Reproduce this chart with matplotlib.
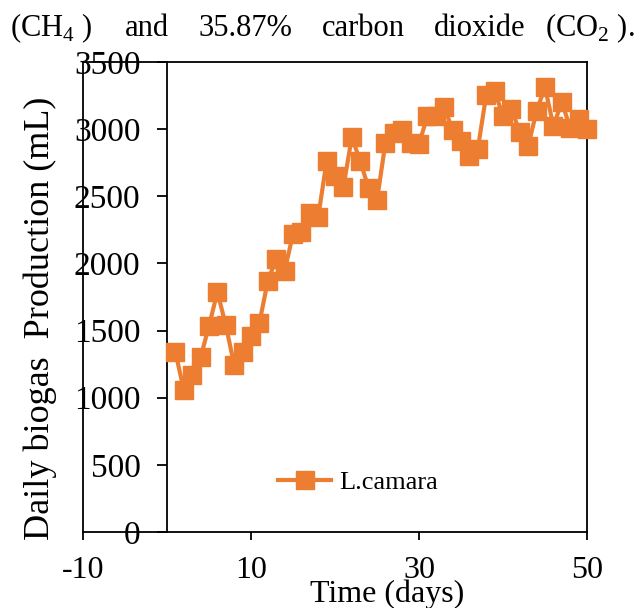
import matplotlib
matplotlib.use('Agg')
import matplotlib.pyplot as plt

plt.rcParams['font.family'] = ['Liberation Serif', 'DejaVu Serif']
plt.rcParams['mathtext.fontset'] = 'custom'
plt.rcParams['mathtext.rm'] = 'Liberation Serif'
plt.rcParams['axes.unicode_minus'] = False

# daily biogas volume
days = list(range(1, 51))
biogas = [1340, 1057, 1170, 1300, 1535, 1787, 1540, 1243, 1340, 1460,
          1556, 1870, 2033, 1943, 2219, 2233, 2375, 2345, 2762, 2650,
          2569, 2940, 2762, 2560, 2472, 2897, 2970, 2993, 2897, 2890,
          3097, 3097, 3164, 2993, 2911, 2800, 2852, 3254, 3284, 3097,
          3150, 2978, 2874, 3135, 3313, 3023, 3202, 3008, 3075, 3000]
series_name = 'L.camara'
x_ticks = [-10, 10, 30, 50]
y_ticks = [0, 500, 1000, 1500, 2000, 2500, 3000, 3500]

W, H = 641, 608
fig = plt.figure(figsize=(W / 100, H / 100), dpi=100)
ax = fig.add_axes([83 / W, (H - 532) / H, 504 / W, 470 / H])

ax.plot(days, biogas, color='#ED7D31', lw=3, marker='s', markersize=13,
        markeredgecolor='#ED7D31', label=series_name, clip_on=False, zorder=3)

ax.set_xlim(-10, 50)
ax.set_ylim(0, 3500)
ax.set_xticks(x_ticks)
ax.set_yticks(y_ticks)

# y axis crosses at day 0, box kept around the whole area
for s in ax.spines.values():
    s.set_linewidth(1.3)
ax.spines['left'].set_position(('data', 0))
ax.axvline(-10, color='black', lw=1.3, clip_on=False)
ax.tick_params(axis='y', direction='out', length=7, width=1.3, pad=12, labelsize=24)
ax.tick_params(axis='x', direction='out', length=6, width=1.3, pad=11, labelsize=23)

ax.legend(loc='center', bbox_to_anchor=(358 / W, 1 - 482 / H),
          bbox_transform=fig.transFigure, frameon=False, fontsize=19,
          handlelength=2.0, handletextpad=0.3)

fig.text(387 / W, 1 - 594 / H, 'Time (days)', ha='center', va='center', fontsize=23)
fig.text(40 / W, 1 - 318 / H, 'Daily biogas  Production (mL)', ha='center',
         va='center', rotation=90, fontsize=26)

# cropped sentence from the page above the figure
words = [(10, r'(CH$_4$ )'), (125, 'and'), (199, '35.87%'), (322, 'carbon'),
         (434, 'dioxide'), (545, r'(CO$_2$ ).')]
for xw, w in words:
    fig.text(xw / W, 1 - 28 / H, w, ha='left', va='center', fontsize=22)

fig.savefig('out.png', dpi=100)
